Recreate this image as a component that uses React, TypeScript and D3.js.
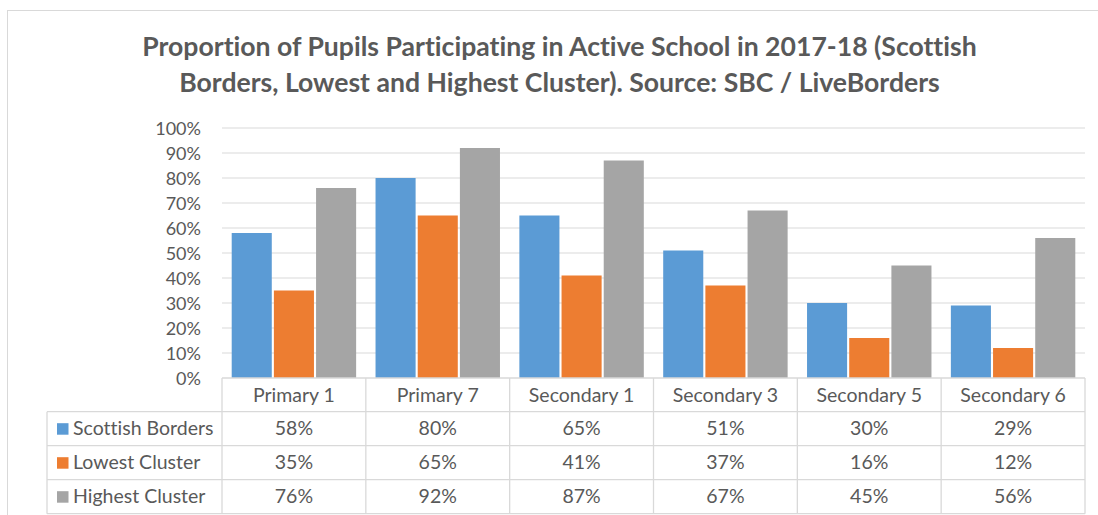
import React from "react";
import * as d3 from "d3";

const categories = ["Primary 1", "Primary 7", "Secondary 1", "Secondary 3", "Secondary 5", "Secondary 6"];
const seriesNames = ["Scottish Borders", "Lowest Cluster", "Highest Cluster"];
const scottishBorders = [58, 80, 65, 51, 30, 29];
const lowestCluster = [35, 65, 41, 37, 16, 12];
const highestCluster = [76, 92, 87, 67, 45, 56];
const yTicks = [0, 10, 20, 30, 40, 50, 60, 70, 80, 90, 100];
const titleLines = [
  "Proportion of Pupils Participating in Active School in 2017-18 (Scottish",
  "Borders, Lowest and Highest Cluster). Source: SBC / LiveBorders",
];

const seriesValues = [scottishBorders, lowestCluster, highestCluster];
const colors = ["#5B9BD5", "#ED7D31", "#A5A5A5"];

export default function App() {
  const W = 1098, H = 515;
  const plotL = 222, plotR = 1085, plotT = 128, plotB = 378;
  const tableL = 47;
  const rowH = 34;
  const headerB = 411.7;
  const y = d3.scaleLinear().domain([0, 100]).range([plotB, plotT]);
  const x = d3.scaleBand<string>().domain(categories).range([plotL, plotR]).padding(0);
  const inner = d3
    .scaleBand<string>()
    .domain(seriesNames)
    .range([9.7, x.bandwidth() - 9.7])
    .paddingInner(0.05);
  const textColor = "#595959";
  const gridColor = "#D9D9D9";
  const font = "Lato, 'Open Sans', sans-serif";
  const rowYs = seriesNames.map((_, i) => headerB + i * rowH);
  const noLig = { fontVariantLigatures: "none" as const };

  return (
    <svg width={W} height={H} style={{ position: "absolute", left: 0, top: 0, ...noLig }}>
      <rect x={0} y={0} width={W} height={H} fill="#fff" />
      <rect x={7.5} y={10.5} width={W + 10} height={H + 10} fill="none" stroke={gridColor} strokeWidth={1} />
      <g fontFamily={font} fill={textColor} fontWeight="bold" fontSize={26.6}>
        {titleLines.map((t, i) => (
          <text key={i} x={559.5} y={56 + i * 36} textAnchor="middle">
            {t}
          </text>
        ))}
      </g>
      {yTicks.map((t) => (
        <g key={t}>
          {t > 0 && (
            <line x1={plotL} x2={plotR} y1={y(t)} y2={y(t)} stroke={gridColor} strokeWidth={1} />
          )}
          <text
            x={201}
            y={y(t) + 6.5}
            textAnchor="end"
            fontFamily={font}
            fontSize={18}
            fill={textColor}
          >
            {t}%
          </text>
        </g>
      ))}
      {categories.map((c, ci) =>
        seriesNames.map((s, si) => {
          const v = seriesValues[si][ci];
          return (
            <rect
              key={c + s}
              x={(x(c) as number) + (inner(s) as number)}
              y={y(v)}
              width={inner.bandwidth()}
              height={y(0) - y(v)}
              fill={colors[si]}
            />
          );
        })
      )}
      {/* table */}
      <g stroke={gridColor} strokeWidth={1.3}>
        <line x1={plotL} x2={plotR} y1={plotB} y2={plotB} />
        {rowYs.map((ry, i) => (
          <line key={i} x1={tableL} x2={plotR} y1={ry} y2={ry} />
        ))}
        <line x1={tableL} x2={plotR} y1={headerB + 3 * rowH} y2={headerB + 3 * rowH} />
        <line x1={tableL} x2={tableL} y1={headerB} y2={headerB + 3 * rowH} />
        {categories.map((c) => (
          <line key={c} x1={x(c)} x2={x(c)} y1={plotB} y2={headerB + 3 * rowH} />
        ))}
        <line x1={plotR} x2={plotR} y1={plotB} y2={headerB + 3 * rowH} />
      </g>
      <g fontFamily={font} fontSize={19.5} fill={textColor}>
        {categories.map((c) => (
          <text key={c} x={(x(c) as number) + x.bandwidth() / 2} y={plotB + 23.5} textAnchor="middle">
            {c}
          </text>
        ))}
        {seriesNames.map((s, si) => (
          <g key={s}>
            <rect x={57} y={rowYs[si] + 11.5} width={11.5} height={11.5} fill={colors[si]} />
            <text x={73} y={rowYs[si] + 23.5}>
              {s}
            </text>
            {categories.map((c, ci) => (
              <text
                key={c}
                x={(x(c) as number) + x.bandwidth() / 2}
                y={rowYs[si] + 23.5}
                textAnchor="middle"
              >
                {seriesValues[si][ci]}%
              </text>
            ))}
          </g>
        ))}
      </g>
    </svg>
  );
}
